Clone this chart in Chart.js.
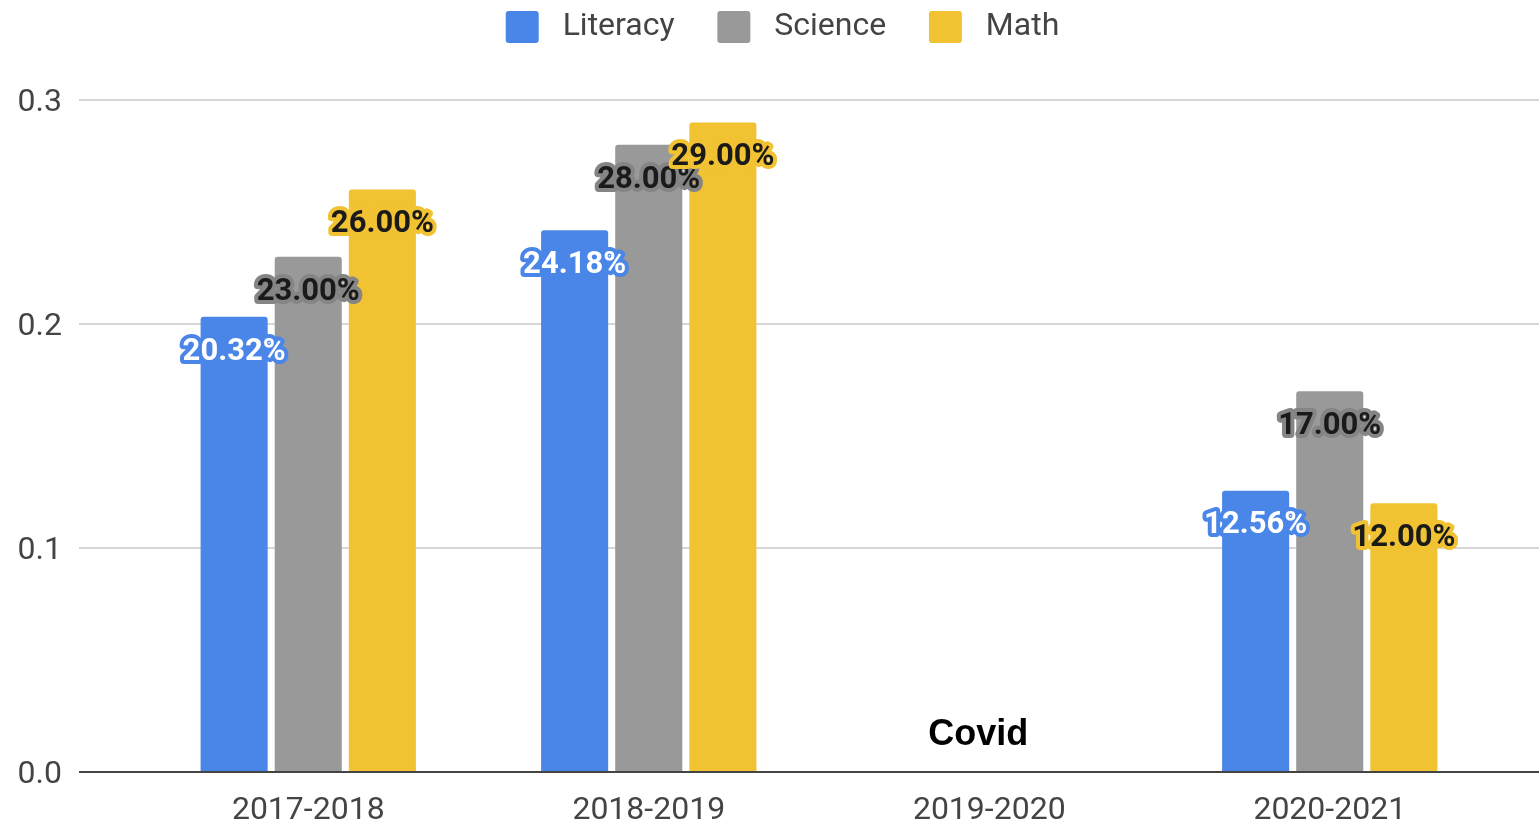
<!DOCTYPE html>
<html>
<head>
<meta charset="utf-8">
<script src="https://cdn.jsdelivr.net/npm/chart.js"></script>
<style>
  html, body { margin: 0; padding: 0; background: #fff; }
  #wrap { width: 1539px; height: 824px; }
</style>
</head>
<body>
<div id="wrap"><canvas id="barChart"></canvas></div>
<script>
  // values
  let years = ['2017-2018', '2018-2019', '2019-2020', '2020-2021']
  let literacy = [0.2032, 0.2418, null, 0.1256]
  let science = [0.23, 0.28, null, 0.17]
  let math = [0.26, 0.29, null, 0.12]
  let yTicks = [0, 0.1, 0.2, 0.3]
  let noteText = 'Covid', noteYear = '2019-2020', noteValue = 0.012

  let barColors = ['#4a86e8', '#999999', '#f1c232']
  let labelText = ['#ffffff', '#1a1a1a', '#1a1a1a']
  let labelHalo = ['#4a86e8', '#858585', '#f1c232']

  Chart.defaults.font.family = 'Roboto'
  Chart.defaults.color = '#444'

  // value labels inside the top of every bar
  const barLabels = {
    id: 'barLabels',
    afterDatasetsDraw(chart) {
      let ctx = chart.ctx
      chart.data.datasets.forEach((ds, i) => {
        chart.getDatasetMeta(i).data.forEach((bar, j) => {
          let v = ds.data[j]
          if (v == null) return
          let txt = (v * 100).toFixed(2) + '%'
          ctx.save()
          ctx.font = 'bold 31px Roboto'
          ctx.textAlign = 'center'
          ctx.textBaseline = 'middle'
          ctx.lineJoin = 'round'
          ctx.lineWidth = 8
          ctx.strokeStyle = labelHalo[i]
          ctx.strokeText(txt, bar.x, bar.y + 35)
          ctx.fillStyle = labelText[i]
          ctx.fillText(txt, bar.x, bar.y + 35)
          ctx.restore()
        })
      })
    }
  }

  // "Covid" note over the empty year
  const covidNote = {
    id: 'covidNote',
    afterDatasetsDraw(chart) {
      let ctx = chart.ctx
      let x = chart.scales.x.getPixelForValue(years.indexOf(noteYear)) - 11
      let y = chart.scales.y.getPixelForValue(noteValue)
      ctx.save()
      ctx.font = 'bold 36px "Liberation Sans"'
      ctx.fillStyle = '#000'
      ctx.textAlign = 'center'
      ctx.textBaseline = 'alphabetic'
      ctx.fillText(noteText, x, y)
      ctx.restore()
    }
  }

  // room under the legend, and nudge it a bit right
  const legendGap = {
    id: 'legendGap',
    beforeInit(chart) {
      let fit = chart.legend.fit
      chart.legend.fit = function () {
        fit.bind(chart.legend)()
        this.height = 100
      }
    },
    afterLayout(chart) {
      chart.legend.left = 26
    }
  }

  let gridColor = c => c.tick.value === 0 ? '#444' : '#d6d6d6'

  let ctx = document.getElementById('barChart').getContext('2d')
  let myChart = new Chart(ctx, {
    type: 'bar',
    data: {
      labels: years,
      datasets: [
        { label: 'Literacy', data: literacy, backgroundColor: barColors[0] },
        { label: 'Science', data: science, backgroundColor: barColors[1] },
        { label: 'Math', data: math, backgroundColor: barColors[2] }
      ]
    },
    options: {
      responsive: true,
      maintainAspectRatio: false,
      animation: false,
      layout: { padding: 0 },
      datasets: {
        bar: {
          barPercentage: 0.905,
          categoryPercentage: 0.653,
          borderRadius: { topLeft: 3, topRight: 3 },
          borderSkipped: 'bottom'
        }
      },
      plugins: {
        tooltip: { enabled: false },
        legend: {
          position: 'top',
          labels: {
            boxWidth: 33,
            boxHeight: 32,
            padding: 11,
            useBorderRadius: true,
            borderRadius: 3,
            font: { size: 32 },
            color: '#444',
            generateLabels(chart) {
              let items = Chart.defaults.plugins.legend.labels.generateLabels(chart)
              items.forEach((it, i) => {
                it.text = ' ' + it.text + (i < items.length - 1 ? '    ' : '')
              })
              return items
            }
          }
        }
      },
      scales: {
        x: {
          grid: { display: false, drawTicks: false },
          border: { display: false },
          ticks: { font: { size: 32 }, color: '#444', padding: 20 },
          afterFit(s) { s.height = 52 }
        },
        y: {
          min: 0,
          max: 0.3,
          afterBuildTicks(s) { s.ticks = yTicks.map(v => ({ value: v })) },
          ticks: { font: { size: 32 }, color: '#444', padding: 17, labelOffset: 3, callback: v => v.toFixed(1) },
          grid: { color: gridColor, lineWidth: 2, tickLength: 59 },
          border: { display: false },
          afterFit(s) { s.width = 138 }
        },
        y2: {
          position: 'right',
          min: 0,
          max: 0.3,
          afterBuildTicks(s) { s.ticks = yTicks.map(v => ({ value: v })) },
          ticks: { display: false },
          grid: { color: gridColor, lineWidth: 2, tickLength: 39, drawOnChartArea: false },
          border: { display: false },
          afterFit(s) { s.width = 39 }
        }
      }
    },
    plugins: [barLabels, covidNote, legendGap]
  })
</script>
</body>
</html>
